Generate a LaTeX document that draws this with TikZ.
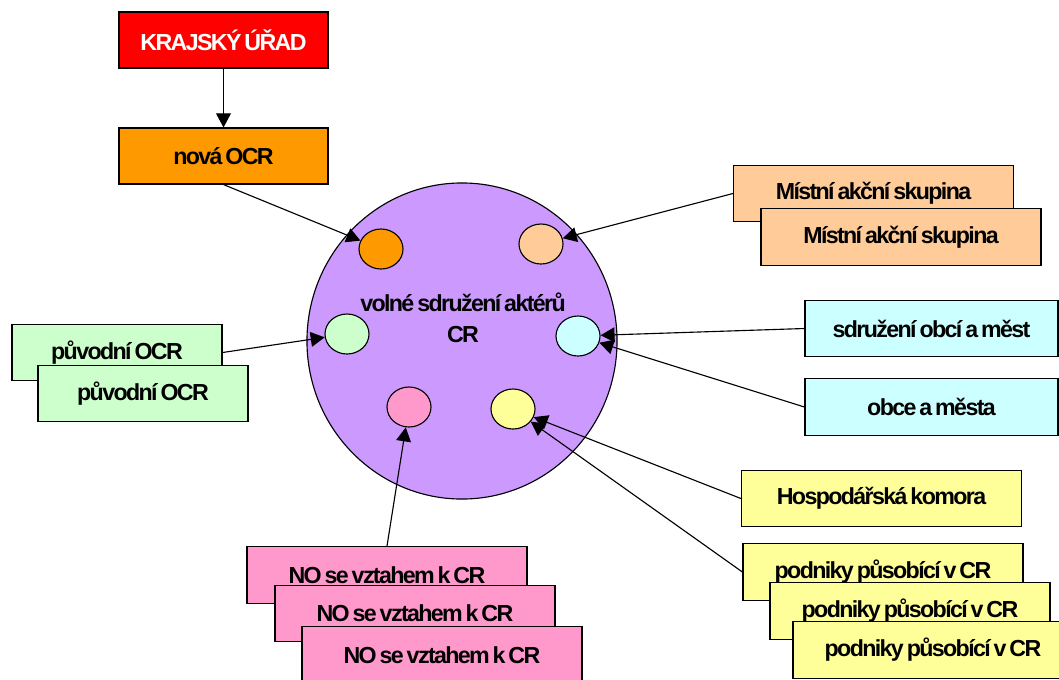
\documentclass[tikz,border=0pt]{standalone}
\usepackage{fontspec}
\setmainfont{Liberation Sans}[LetterSpace=-7, WordSpace=0.6]
\usetikzlibrary{arrows.meta, shapes.geometric}

\definecolor{ocrred}{HTML}{FF0000}
\definecolor{ocrorange}{HTML}{FF9900}
\definecolor{ocrpeach}{HTML}{FFCC99}
\definecolor{ocrgreen}{HTML}{CCFFCC}
\definecolor{ocrcyan}{HTML}{CCFFFF}
\definecolor{ocryellow}{HTML}{FFFF99}
\definecolor{ocrpink}{HTML}{FF99CC}
\definecolor{ocrviolet}{HTML}{CC99FF}

\begin{document}
\begin{tikzpicture}[x=0.025cm, y=-0.025cm, line width=0.8pt,
    box/.style={draw, minimum width=7cm, minimum height=1.42cm, inner sep=0pt,
      font=\fontsize{16.5}{20}\selectfont\bfseries},
    blob/.style={draw, ellipse, minimum width=1.1cm, minimum height=1cm, inner sep=0pt},
    arr/.style={-{Triangle[length=3.5mm,width=3.7mm]}}]
      \useasboundingbox (0,0) rectangle (1059,679);
      \clip (0,0) rectangle (1059,679);

      % centre
      \node[draw, ellipse, fill=ocrviolet, minimum width=7.75cm, minimum height=7.9cm] (cloud) at (462,341) {};
      \node[align=center, font=\fontsize{16.5}{22}\selectfont\bfseries] (cloudtxt) at (463,318) {volné sdružení aktérů\\CR};
      \node[blob, fill=ocrorange] (dotnova) at (381,249) {};
      \node[blob, fill=ocrpeach] (dotmas) at (541,244) {};
      \node[blob, fill=ocrgreen] (dotpuv) at (347,334) {};
      \node[blob, fill=ocrcyan] (dotobce) at (578,336) {};
      \node[blob, fill=ocrpink] (dotno) at (409,407) {};
      \node[blob, fill=ocryellow] (dotpod) at (513,409) {};

      \node[box, fill=ocrred, text=white, minimum width=5.225cm, minimum height=1.4cm] (kraj) at (223.5,40) {KRAJSKÝ ÚŘAD};
      \node[box, fill=ocrorange, minimum width=5.225cm, minimum height=1.4cm] (nova) at (223.5,156) {nová OCR};

      \node[box, fill=ocrpeach] (mas1) at (873.5,193.5) {Místní akční skupina};
      \node[box, fill=ocrpeach] (mas2) at (901,237) {Místní akční skupina};

      \node[box, fill=ocrcyan, minimum width=6.325cm] (sdruz) at (931.5,328.5) {sdružení obcí a měst};
      \node[box, fill=ocrcyan, minimum width=6.325cm] (obce) at (931.5,407) {obce a města};

      \node[box, fill=ocryellow] (komora) at (881.5,498.5) {Hospodářská komora};
      \node[box, fill=ocryellow] (pod1) at (883,572) {podniky působící v CR};
      \node[box, fill=ocryellow] (pod2) at (910,611) {podniky působící v CR};
      \node[box, fill=ocryellow] (pod3) at (933,650) {podniky působící v CR};

      \node[box, fill=ocrpink] (no1) at (387,575) {NO se vztahem k CR};
      \node[box, fill=ocrpink] (no2) at (415,613.5) {NO se vztahem k CR};
      \node[box, fill=ocrpink] (no3) at (442,655) {NO se vztahem k CR};

      \node[box, fill=ocrgreen, minimum width=5.25cm] (puv1) at (117,352.5) {původní OCR};
      \node[box, fill=ocrgreen, minimum width=5.25cm] (puv2) at (143,393.5) {původní OCR};

      \draw[arr] (kraj) -- (nova);
      \draw[arr] (nova.south) -- (dotnova);
      \draw[arr] (mas1.west) -- (dotmas);
      \draw[arr] (puv1.east) -- (dotpuv);
      \draw[arr] (sdruz.west) -- (dotobce);
      \draw[arr] (obce.west) -- (dotobce);
      \draw[arr] (komora.west) -- (dotpod);
      \draw[arr] (pod1.west) -- (dotpod);
      \draw[arr] (no1.north) -- (dotno);
\end{tikzpicture}
\end{document}
